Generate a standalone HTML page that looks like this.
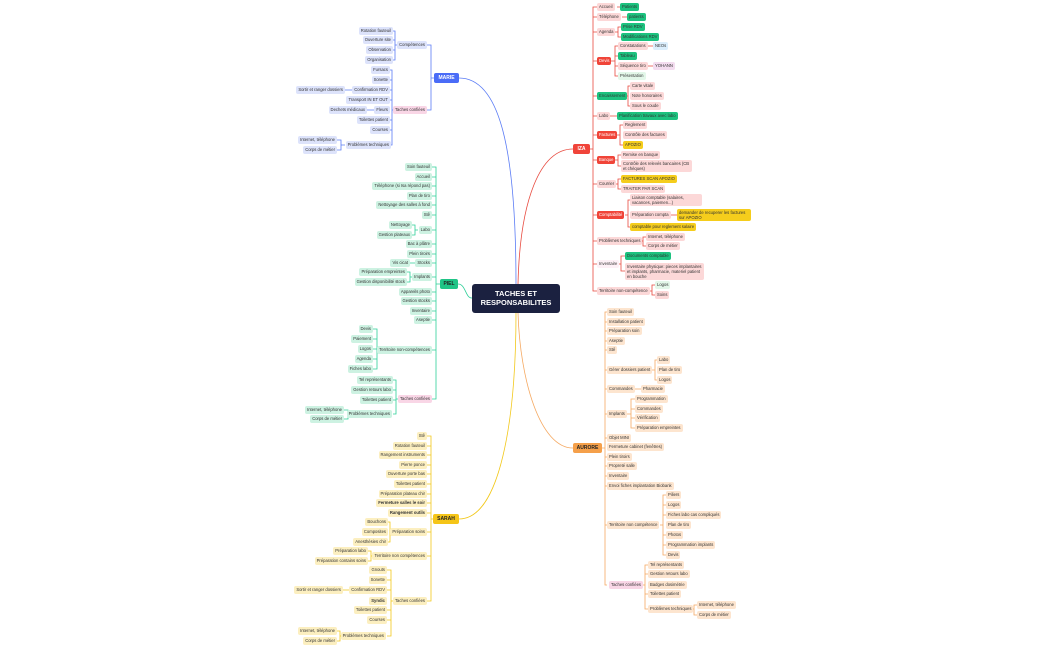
<!DOCTYPE html>
<html><head><meta charset="utf-8"><style>
body{margin:0;width:1050px;height:650px;background:#fff;position:relative;overflow:hidden;font-family:"Liberation Sans",sans-serif}
svg{position:absolute;left:0;top:0}
.n{position:absolute;height:8px;line-height:8px;font-size:4.2px;padding:0 2px;border-radius:2px;white-space:nowrap;color:#333}
.t2{height:auto;line-height:5px;padding:1px 2px;white-space:normal}
.b{background:#dde3fb}.g{background:#cdf2e2}.y{background:#fcefc0}.r{background:#fcd8d8}.o{background:#fde5cf}.p{background:#f9d6e6}
.G{background:#1cc27f}.Y{background:#f5cd1c}.R{background:#f04438;color:#fff}.lb{background:#dbeefc}.lg{background:#e3f7e9}.lv{background:#f3dcef}
.m{position:absolute;height:10px;line-height:10px;font-size:5px;font-weight:bold;text-align:center;border-radius:2px}
.bd{font-weight:bold}
</style></head><body>
<svg width="1050" height="650" fill="none" stroke-width="0.8">
<g stroke="#5b7cf5">
<path d="M459 78C500 78 516 150 516 284"/>
<path d="M434 78H431M427 45H431V110H427"/>
<path d="M398 45H395M393 31H395V60H393M393 40H395M393 50H395"/>
<path d="M395 110H392M390 70H392V145H390M390 80H392M390 90H392M390 100H392M390 120H392M390 130H392"/>
<path d="M345 90H353M367 110H375M345 145H341M337 140H341V150H337"/>
</g>
<g stroke="#2ecf98">
<path d="M458 284C466 284 465 298 472 298"/>
<path d="M440 284H436M432 167H436V399H432M432 177H436M432 186H436M432 196H436M432 205H436M432 215H436M432 230H436M432 244H436M432 254H436M432 263H436M432 277H436M432 292H436M432 301H436M432 311H436M432 320H436M432 350H436"/>
<path d="M418 230H415M412 225H415V235H412M410 263H417M413 277H410M407 272H410V282H407"/>
<path d="M380 350H377M373 329H377V369H373M373 339H377M373 349H377M373 359H377"/>
<path d="M400 399H396M393 380H396V414H393M393 390H396M393 400H396M351 414H348M344 410H348V419H344"/>
</g>
<g stroke="#f2c81a">
<path d="M459 519C500 519 516 420 516 313"/>
<path d="M433 519H431M427 436H431V601H427M427 446H431M427 455H431M427 465H431M427 474H431M427 484H431M427 494H431M427 503H431M427 513H431M427 532H431M427 556H431"/>
<path d="M392 532H390M388 522H390V542H388M373 556H371M368 551H371V561H368"/>
<path d="M395 601H391M387 570H391V636H387M387 580H391M387 590H391M387 610H391M387 620H391M343 590H352M342 636H340M337 631H340V641H337"/>
</g>
<g stroke="#e84a3f">
<path d="M573 149C540 149 520 200 518 284"/>
<path d="M590 149H593M597 7H593V291H597M593 17H597M593 32H597M593 61H597M593 96H597M593 116H597M593 135H597M593 160H597M593 184H597M593 215H597M593 241H597M593 264H597"/>
<path d="M617 7H620M622 17H627M615 32H618M621 27H618V37H621M611 61H615M618 46H615V76H618M615 56H618M615 66H618M646 46H653M647 66H653"/>
<path d="M625 96H628M630 86H628V106H630M609 116H617M617 135H620M623 125H620V145H623M613 160H618M621 155H618V166H621M615 184H618M621 179H618V189H621"/>
<path d="M625 215H628M630 200H628V227H630M670 215H677M639 241H643M646 237H643V246H646M617 264H621M625 256H621V271H625M648 291H652M655 285H652V295H655"/>
</g>
<g stroke="#f5a962">
<path d="M573 448C540 448 520 380 518 313"/>
<path d="M602 448H605M607 312H605V585H607M605 322H607M605 331H607M605 341H607M605 350H607M605 370H607M605 389H607M605 414H607M605 438H607M605 457H607M605 466H607M605 476H607M605 486H607M605 525H607"/>
<path d="M652 370H655M657 360H655V380H657M633 389H641M627 414H631M635 399H631V428H635M631 409H635M631 418H635"/>
<path d="M660 525H663M666 495H663V555H666M663 505H666M663 515H666M663 535H666M663 545H666"/>
<path d="M641 585H645M648 565H645V609H648M645 574H648M645 594H648M690 609H694M697 605H694V615H697"/>
</g>
</svg>

<div style="position:absolute;left:472px;top:284px;width:88px;height:29px;background:#1b2140;border-radius:3px;color:#fff;font-size:7.5px;font-weight:bold;text-align:center;line-height:9px;padding-top:5px;box-sizing:border-box">TACHES ET<br>RESPONSABILITES</div>

<div class="m" style="left:434px;top:73px;width:25px;background:#4a6cf7;color:#fff">MARIE</div>
<div class="m" style="left:440px;top:279px;width:18px;background:#1fc486;color:#222">PIEL</div>
<div class="m" style="left:433px;top:514px;width:26px;background:#f5c518;color:#222">SARAH</div>
<div class="m" style="left:573px;top:144px;width:17px;background:#f0443a;color:#fff">IZA</div>
<div class="m" style="left:573px;top:443px;width:29px;background:#f5a04a;color:#222">AURORE</div>

<!-- MARIE -->
<div class="n b" style="right:623px;top:41px">Compétences</div>
<div class="n b" style="right:657px;top:27px">Rotation fauteuil</div>
<div class="n b" style="right:657px;top:36px">Ouverture site</div>
<div class="n b" style="right:657px;top:46px">Observation</div>
<div class="n b" style="right:657px;top:56px">Organisation</div>
<div class="n p" style="right:623px;top:106px">Taches confiées</div>
<div class="n b" style="right:660px;top:66px">Fursacs</div>
<div class="n b" style="right:660px;top:76px">Sonette</div>
<div class="n b" style="right:660px;top:86px">Confirmation RDV</div>
<div class="n b" style="right:705px;top:86px">Sortir et ranger dossiers</div>
<div class="n b" style="right:660px;top:96px">Transport IN ET OUT</div>
<div class="n b" style="right:660px;top:106px">Fleurs</div>
<div class="n b" style="right:683px;top:106px">Dechets médicaux</div>
<div class="n b" style="right:660px;top:116px">Toilettes patient</div>
<div class="n b" style="right:660px;top:126px">Courses</div>
<div class="n b" style="right:659px;top:141px">Problèmes techniques</div>
<div class="n b" style="right:713px;top:136px">Internet, téléphone</div>
<div class="n b" style="right:713px;top:146px">Corps de métier</div>

<!-- PIEL -->
<div class="n g" style="right:618px;top:163px">Soin fauteuil</div>
<div class="n g" style="right:618px;top:173px">Accueil</div>
<div class="n g" style="right:618px;top:182px">Téléphone (si Isa répond pas)</div>
<div class="n g" style="right:618px;top:192px">Plan de tiro</div>
<div class="n g" style="right:618px;top:201px">Nettoyage des salles à fond</div>
<div class="n g" style="right:618px;top:211px">Stê</div>
<div class="n g" style="right:618px;top:226px">Labo</div>
<div class="n g" style="right:638px;top:221px">Nettoyage</div>
<div class="n g" style="right:638px;top:231px">Gestion plateaux</div>
<div class="n g" style="right:618px;top:240px">Bac à plâtre</div>
<div class="n g" style="right:618px;top:250px">Plein tiroirs</div>
<div class="n g" style="right:618px;top:259px">Stocks</div>
<div class="n g" style="right:640px;top:259px">Vis cicat</div>
<div class="n g" style="right:618px;top:273px">Implants</div>
<div class="n g" style="right:643px;top:268px">Préparation empreintes</div>
<div class="n g" style="right:643px;top:278px">Gestion disponibilité stock</div>
<div class="n g" style="right:618px;top:288px">Appareils photo</div>
<div class="n g" style="right:618px;top:297px">Gestion stocks</div>
<div class="n g" style="right:618px;top:307px">Inventaire</div>
<div class="n g" style="right:618px;top:316px">Aseptie</div>
<div class="n g" style="right:618px;top:346px">Territoire non-compétences</div>
<div class="n g" style="right:677px;top:325px">Devis</div>
<div class="n g" style="right:677px;top:335px">Paiement</div>
<div class="n g" style="right:677px;top:345px">Logos</div>
<div class="n g" style="right:677px;top:355px">Agenda</div>
<div class="n g" style="right:677px;top:365px">Fiches labo</div>
<div class="n p" style="right:618px;top:395px">Taches confiées</div>
<div class="n g" style="right:657px;top:376px">Tel représentants</div>
<div class="n g" style="right:657px;top:386px">Gestion retours labo</div>
<div class="n g" style="right:657px;top:396px">Toilettes patient</div>
<div class="n g" style="right:658px;top:410px">Problèmes techniques</div>
<div class="n g" style="right:706px;top:406px">Internet, téléphone</div>
<div class="n g" style="right:706px;top:415px">Corps de métier</div>

<!-- SARAH -->
<div class="n y" style="right:623px;top:432px">Stê</div>
<div class="n y" style="right:623px;top:442px">Rotation fauteuil</div>
<div class="n y" style="right:623px;top:451px">Rangement instruments</div>
<div class="n y" style="right:623px;top:461px">Pierre ponce</div>
<div class="n y" style="right:623px;top:470px">Ouverture porte bas</div>
<div class="n y" style="right:623px;top:480px">Toilettes patient</div>
<div class="n y" style="right:623px;top:490px">Préparation plateau chir</div>
<div class="n y bd" style="right:623px;top:499px">Fermeture salles le soir</div>
<div class="n y bd" style="right:623px;top:509px">Rangement outils</div>
<div class="n y" style="right:623px;top:528px">Préparation soins</div>
<div class="n y" style="right:662px;top:518px">Bouchons</div>
<div class="n y" style="right:662px;top:528px">Composites</div>
<div class="n y" style="right:662px;top:538px">Anesthésies chir</div>
<div class="n y" style="right:623px;top:552px">Territoire non compétences</div>
<div class="n y" style="right:682px;top:547px">Préparation labo</div>
<div class="n y" style="right:682px;top:557px">Préparation contains soins</div>
<div class="n y" style="right:623px;top:597px">Taches confiées</div>
<div class="n y" style="right:663px;top:566px">Gnouts</div>
<div class="n y" style="right:663px;top:576px">Sonette</div>
<div class="n y" style="right:663px;top:586px">Confirmation RDV</div>
<div class="n y" style="right:707px;top:586px">Sortir et ranger dossiers</div>
<div class="n y bd" style="right:663px;top:597px">Syndic</div>
<div class="n y" style="right:663px;top:606px">Toilettes patient</div>
<div class="n y" style="right:663px;top:616px">Courses</div>
<div class="n y" style="right:664px;top:632px">Problèmes techniques</div>
<div class="n y" style="right:713px;top:627px">Internet, téléphone</div>
<div class="n y" style="right:713px;top:637px">Corps de métier</div>

<!-- IZA -->
<div class="n r" style="left:597px;top:3px">Accueil</div><div class="n G" style="left:620px;top:3px">Patients</div>
<div class="n r" style="left:597px;top:13px">Téléphone</div><div class="n G" style="left:627px;top:13px">patients</div>
<div class="n r" style="left:597px;top:28px">Agenda</div>
<div class="n G" style="left:621px;top:23px">Prise RDV</div><div class="n G" style="left:621px;top:33px">Modifications RDV</div>
<div class="n R" style="left:597px;top:57px">Devis</div>
<div class="n r" style="left:618px;top:42px">Constatations</div><div class="n lb" style="left:653px;top:42px">NEOs</div>
<div class="n G" style="left:618px;top:52px">Tableau</div>
<div class="n r" style="left:618px;top:62px">Séquence tiro</div><div class="n lv" style="left:653px;top:62px">YOHANN</div>
<div class="n lg" style="left:618px;top:72px">Présentation</div>
<div class="n G" style="left:597px;top:92px">Encaissement</div>
<div class="n r" style="left:630px;top:82px">Carte vitale</div>
<div class="n r" style="left:630px;top:92px">Note honoraires</div>
<div class="n r" style="left:630px;top:102px">Sous le coude</div>
<div class="n r" style="left:597px;top:112px">Labo</div><div class="n G" style="left:617px;top:112px">Planification travaux avec labo</div>
<div class="n R" style="left:597px;top:131px">Factures</div>
<div class="n r" style="left:623px;top:121px">Reglement</div>
<div class="n r" style="left:623px;top:131px">Contrôle des factures</div>
<div class="n Y" style="left:623px;top:141px">APOZIO</div>
<div class="n R" style="left:597px;top:156px">Banque</div>
<div class="n r" style="left:621px;top:151px">Remise en banque</div>
<div class="n r t2" style="left:621px;top:160px;width:67px">Contrôle des relevés bancaires (CB et chèques)</div>
<div class="n r" style="left:597px;top:180px">Courrier</div>
<div class="n Y" style="left:621px;top:175px">FACTURES SCAN APOZIO</div>
<div class="n r" style="left:621px;top:185px">TRAITER PAR SCAN</div>
<div class="n R" style="left:597px;top:211px">Comptabilité</div>
<div class="n r t2" style="left:630px;top:194px;width:68px">Liaison comptable (salaires, vacances, paiemen...)</div>
<div class="n r" style="left:630px;top:211px">Préparation compta</div>
<div class="n Y t2" style="left:677px;top:209px;width:70px">demander de recuperer les factures sur APOZIO</div>
<div class="n Y" style="left:630px;top:223px">comptable pour reglement salaire</div>
<div class="n r" style="left:597px;top:237px">Problèmes techniques</div>
<div class="n r" style="left:646px;top:233px">Internet, téléphone</div>
<div class="n r" style="left:646px;top:242px">Corps de métier</div>
<div class="n" style="left:597px;top:260px;background:#fdf0f6">Inventaire</div>
<div class="n G" style="left:625px;top:252px">Documents comptable</div>
<div class="n r t2" style="left:625px;top:263px;width:75px">Inventaire physique: pieces implantaires et implants, pharmacie, materiel patient en bouche</div>
<div class="n r" style="left:597px;top:287px">Territoire non-compétence</div>
<div class="n lg" style="left:655px;top:281px">Logos</div>
<div class="n r" style="left:655px;top:291px">Soins</div>

<!-- AURORE -->
<div class="n o" style="left:607px;top:308px">Soin fauteuil</div>
<div class="n o" style="left:607px;top:318px">Installation patient</div>
<div class="n o" style="left:607px;top:327px">Préparation soin</div>
<div class="n o" style="left:607px;top:337px">Aseptie</div>
<div class="n o" style="left:607px;top:346px">Stê</div>
<div class="n o" style="left:607px;top:366px">Gérer dossiers patient</div>
<div class="n o" style="left:657px;top:356px">Labo</div>
<div class="n o" style="left:657px;top:366px">Plan de tiro</div>
<div class="n o" style="left:657px;top:376px">Logos</div>
<div class="n o" style="left:607px;top:385px">Commandes</div>
<div class="n o" style="left:641px;top:385px">Pharmacie</div>
<div class="n o" style="left:607px;top:410px">Implants</div>
<div class="n o" style="left:635px;top:395px">Programmation</div>
<div class="n o" style="left:635px;top:405px">Commandes</div>
<div class="n o" style="left:635px;top:414px">Vérification</div>
<div class="n o" style="left:635px;top:424px">Préparation empreintes</div>
<div class="n o" style="left:607px;top:434px">Objet MINI</div>
<div class="n o" style="left:607px;top:443px">Fermeture cabinet (fenêtres)</div>
<div class="n o" style="left:607px;top:453px">Plein tiroirs</div>
<div class="n o" style="left:607px;top:462px">Propreté salle</div>
<div class="n o" style="left:607px;top:472px">Inventaire</div>
<div class="n o" style="left:607px;top:482px">Envoi fiches implantation Biobank</div>
<div class="n o" style="left:607px;top:521px">Territoire non compétence</div>
<div class="n o" style="left:666px;top:491px">Piliers</div>
<div class="n o" style="left:666px;top:501px">Logos</div>
<div class="n o" style="left:666px;top:511px">Fiches labo cas compliqués</div>
<div class="n o" style="left:666px;top:521px">Plan de tiro</div>
<div class="n o" style="left:666px;top:531px">Photos</div>
<div class="n o" style="left:666px;top:541px">Programmation implants</div>
<div class="n o" style="left:666px;top:551px">Devis</div>
<div class="n p" style="left:609px;top:581px">Taches confiées</div>
<div class="n o" style="left:648px;top:561px">Tel représentants</div>
<div class="n o" style="left:648px;top:570px">Gestion retours labo</div>
<div class="n o" style="left:648px;top:581px">Badges dosimétrie</div>
<div class="n o" style="left:648px;top:590px">Toilettes patient</div>
<div class="n o" style="left:648px;top:605px">Problèmes techniques</div>
<div class="n o" style="left:697px;top:601px">Internet, téléphone</div>
<div class="n o" style="left:697px;top:611px">Corps de métier</div>
</body></html>
